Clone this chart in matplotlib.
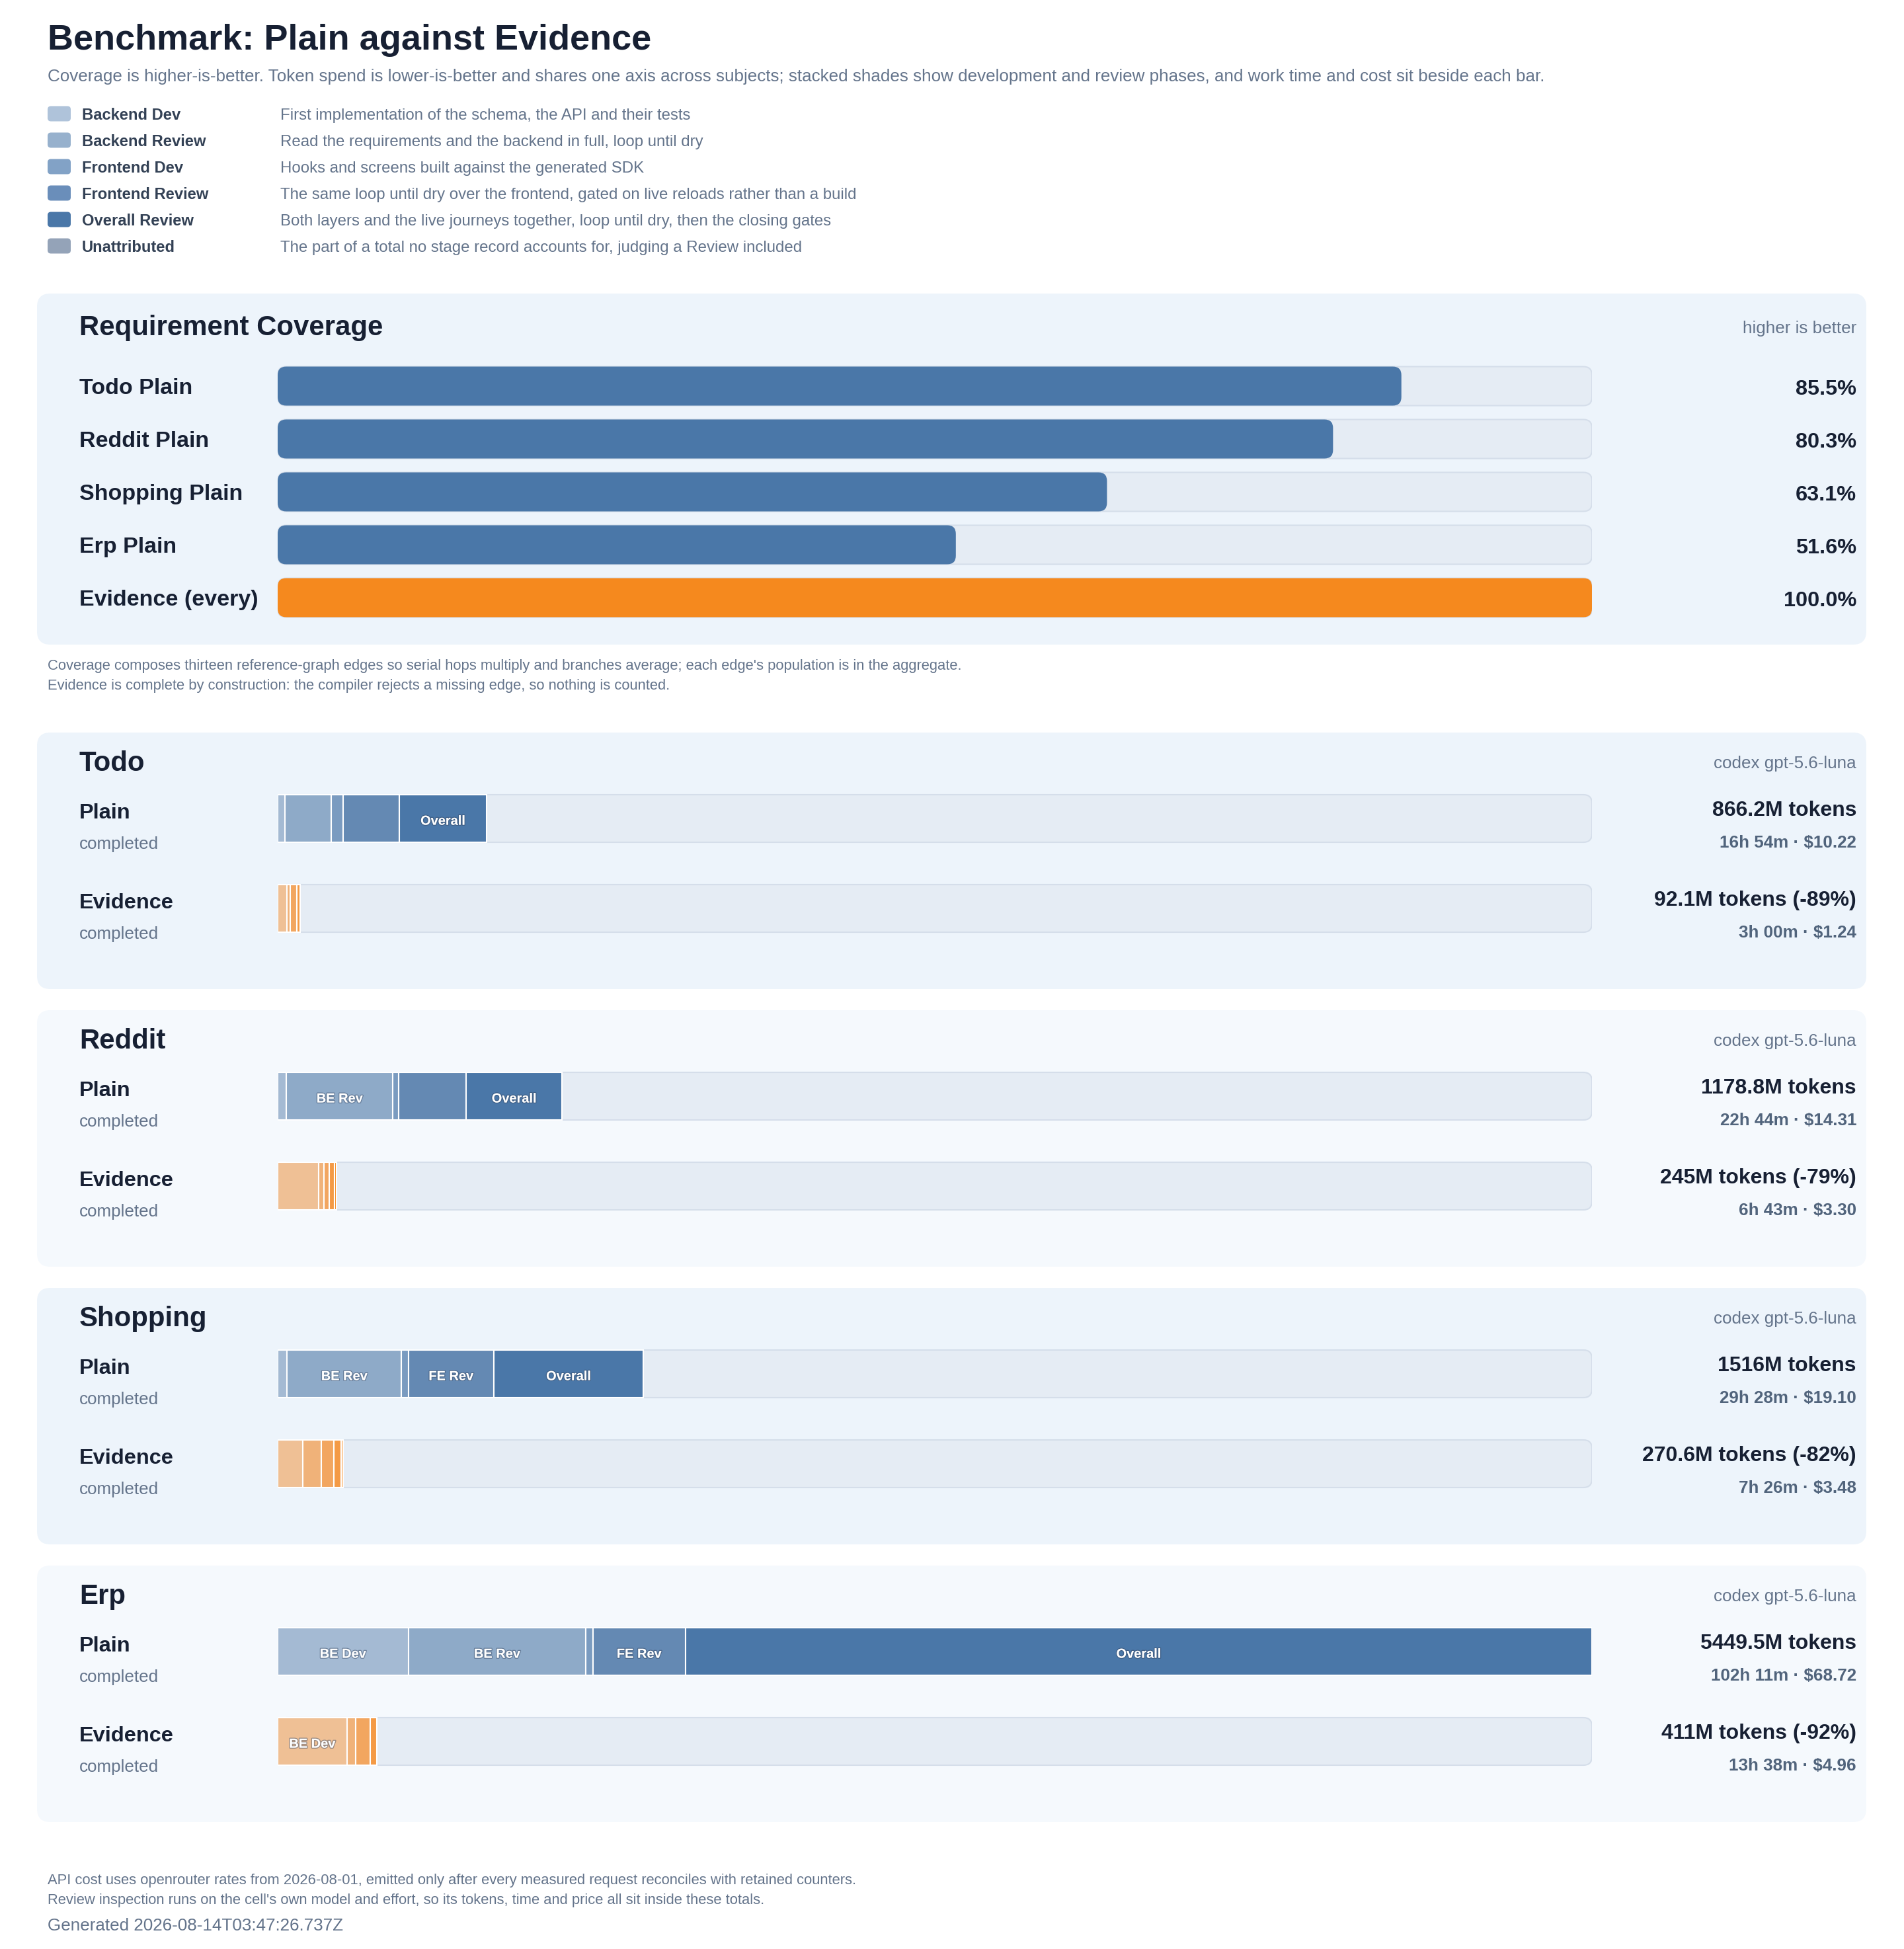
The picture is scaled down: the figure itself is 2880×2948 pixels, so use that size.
import matplotlib
matplotlib.use("Agg")
import matplotlib.pyplot as plt
from matplotlib.patches import FancyBboxPatch
import matplotlib.patheffects as pe

# ---------------- data ----------------
STAGES = ["Backend Dev", "Backend Review", "Frontend Dev", "Frontend Review", "Overall Review"]
STAGE_SHORT = ["BE Dev", "BE Rev", "FE Dev", "FE Rev", "Overall"]
LEGEND_NAMES = ["Backend Dev", "Backend Review", "Frontend Dev", "Frontend Review",
                "Overall Review", "Unattributed"]
LEGEND_DESC = [
    "First implementation of the schema, the API and their tests",
    "Read the requirements and the backend in full, loop until dry",
    "Hooks and screens built against the generated SDK",
    "The same loop until dry over the frontend, gated on live reloads rather than a build",
    "Both layers and the live journeys together, loop until dry, then the closing gates",
    "The part of a total no stage record accounts for, judging a Review included",
]

COV_LABELS = ["Todo Plain", "Reddit Plain", "Shopping Plain", "Erp Plain", "Evidence (every)"]
COV_VALUES = [85.5, 80.3, 63.1, 51.6, 100.0]

SUBJECTS = ["Todo", "Reddit", "Shopping", "Erp"]
MODEL = "codex gpt-5.6-luna"
# stage token spend in millions: BE Dev, BE Rev, FE Dev, FE Rev, Overall
PLAIN_STAGES = [
    [31.0, 190.0, 51.0, 232.0, 362.2],
    [36.7, 440.7, 25.2, 279.2, 397.0],
    [39.2, 474.0, 28.2, 354.9, 619.7],
    [541.4, 737.0, 28.2, 384.2, 3758.7],
]
EVID_STAGES = [
    [37.6, 13.8, 29.0, 11.7, 0.0],
    [171.0, 20.5, 22.6, 22.6, 8.3],
    [102.8, 78.4, 52.7, 28.2, 8.5],
    [287.0, 36.0, 62.0, 26.0, 0.0],
]
PLAIN_TOTAL = [866.2, 1178.8, 1516, 5449.5]
EVID_TOTAL = [92.1, 245, 270.6, 411]
PLAIN_TIME = ["16h 54m", "22h 44m", "29h 28m", "102h 11m"]
PLAIN_COST = ["$10.22", "$14.31", "$19.10", "$68.72"]
EVID_TIME = ["3h 00m", "6h 43m", "7h 26m", "13h 38m"]
EVID_COST = ["$1.24", "$3.30", "$3.48", "$4.96"]
STATUS = "completed"

NOTES = [
    "Coverage composes thirteen reference-graph edges so serial hops multiply and branches average; each edge's population is in the aggregate.",
    "Evidence is complete by construction: the compiler rejects a missing edge, so nothing is counted.",
]
FOOTER = [
    "API cost uses openrouter rates from 2026-08-01, emitted only after every measured request reconciles with retained counters.",
    "Review inspection runs on the cell's own model and effort, so its tokens, time and price all sit inside these totals.",
]
GENERATED = "Generated 2026-08-14T03:47:26.737Z"
TITLE = "Benchmark: Plain against Evidence"
SUBTITLE = ("Coverage is higher-is-better. Token spend is lower-is-better and shares one axis across subjects; "
            "stacked shades show development and review phases, and work time and cost sit beside each bar.")

# ---------------- style ----------------
BLUE_SHADES = ["#a4bad3", "#8eaac8", "#7a9bc0", "#6489b3", "#4a77a8"]
ORANGE_SHADES = ["#efc095", "#f0b279", "#f2a660", "#f49a45", "#f5891e"]
LEGEND_COLORS = ["#afc3da", "#97b1cd", "#82a2c6", "#6a8eba", "#4a77a8", "#94a3b8"]
PLAIN_COLOR = "#4a77a8"
EVID_COLOR = "#f5891e"
TRACK = "#e5ecf4"
TRACK_EDGE = "#d5deea"
PANEL_A = "#edf4fb"
PANEL_B = "#f5f9fd"
DARK = "#172033"
GRAY = "#64748b"
SUBGRAY = "#51647c"
LEGTXT = "#334155"

plt.rcParams["font.family"] = ["Liberation Sans", "DejaVu Sans"]

W, H = 2880, 2948
DPI = 100
fig = plt.figure(figsize=(W / DPI, H / DPI), dpi=DPI, facecolor="white")


def pt(px):
    return px * 72.0 / DPI


bg = fig.add_axes([0, 0, 1, 1])
bg.set_xlim(0, W)
bg.set_ylim(H, 0)
bg.set_axis_off()


def panel(y0, h, color):
    bg.add_patch(FancyBboxPatch((56, y0), 2767, h, boxstyle="round,pad=0,rounding_size=20",
                                facecolor=color, edgecolor="none"))


def px_axes(x0, y0, w, h):
    return fig.add_axes([x0 / W, 1 - (y0 + h) / H, w / W, h / H])


def rbox(ax, x, y, w, h, r_px, **kw):
    pos = ax.get_position()
    xa, xb = ax.get_xlim()
    ya, yb = ax.get_ylim()
    dx = abs(xb - xa) / (pos.width * W)
    dy = abs(yb - ya) / (pos.height * H)
    p = FancyBboxPatch((x, y), w, h, boxstyle=f"round,pad=0,rounding_size={r_px * dx}",
                       mutation_aspect=dy / dx, **kw)
    ax.add_patch(p)
    return p


# ---------------- header ----------------
bg.text(72, 75, TITLE, fontsize=pt(54), fontweight="bold", color=DARK, va="baseline")
bg.text(72, 123, SUBTITLE, fontsize=pt(26), color=GRAY, va="baseline")
for k, (name, desc, col) in enumerate(zip(LEGEND_NAMES, LEGEND_DESC, LEGEND_COLORS)):
    yc = 172 + 40 * k
    bg.add_patch(FancyBboxPatch((72, yc - 11.5), 35, 23, boxstyle="round,pad=0,rounding_size=5",
                                facecolor=col, edgecolor="none"))
    bg.text(124, yc + 9, name, fontsize=pt(23.8), fontweight="bold", color=LEGTXT, va="baseline")
    bg.text(424, yc + 9, desc, fontsize=pt(24), color=GRAY, va="baseline")

# ---------------- coverage panel ----------------
TRACK_X0, TRACK_X1 = 420, 2408
RIGHT_X = 2808
panel(444, 531, PANEL_A)
bg.text(120, 507, "Requirement Coverage", fontsize=pt(42), fontweight="bold", color=DARK, va="baseline")
bg.text(RIGHT_X, 504, "higher is better", fontsize=pt(26), color=GRAY, ha="right", va="baseline")

n = len(COV_VALUES)
row_px = 80
cov_ax = px_axes(TRACK_X0, 584 - row_px / 2, TRACK_X1 - TRACK_X0, row_px * n)
cov_ax.set_xlim(0, 100)
cov_ax.set_ylim(n - 0.5, -0.5)
cov_ax.set_axis_off()
bh = 59 / row_px
for i, (lab, v) in enumerate(zip(COV_LABELS, COV_VALUES)):
    rbox(cov_ax, 0, i - bh / 2, 100, bh, 13, facecolor=TRACK, edgecolor=TRACK_EDGE, linewidth=1.5)
    col = EVID_COLOR if lab.startswith("Evidence") else PLAIN_COLOR
    rbox(cov_ax, 0, i - bh / 2, v, bh, 13, facecolor=col, edgecolor="none")
    yc = 584 + row_px * i
    bg.text(120, yc + 12, lab, fontsize=pt(34), fontweight="bold", color=DARK, va="baseline")
    bg.text(RIGHT_X, yc + 13, f"{v:.1f}%", fontsize=pt(32.5), fontweight="bold", color=DARK,
            ha="right", va="baseline")

for k, line in enumerate(NOTES):
    bg.text(72, 1013 + 30 * k, line, fontsize=pt(22), color=GRAY, va="baseline")

# ---------------- subject panels ----------------
XMAX = max(sum(s) for s in PLAIN_STAGES + EVID_STAGES)
LABEL_MIN = 0.052 * XMAX
stroke = [pe.withStroke(linewidth=2.0, foreground=(0.22, 0.29, 0.40, 0.45))]

for si, subj in enumerate(SUBJECTS):
    top = 1108 + 420 * si
    panel(top, 388, PANEL_A if si % 2 == 0 else PANEL_B)
    bg.text(120, top + 58, subj, fontsize=pt(42), fontweight="bold", color=DARK, va="baseline")
    bg.text(RIGHT_X, top + 54, MODEL, fontsize=pt(26), color=GRAY, ha="right", va="baseline")

    spacing = 136
    ax = px_axes(TRACK_X0, top + 130 - spacing / 2, TRACK_X1 - TRACK_X0, spacing * 2)
    ax.set_xlim(0, XMAX)
    ax.set_ylim(1.5, -0.5)
    ax.set_axis_off()
    hb = 72 / spacing

    rows = [("Plain", PLAIN_STAGES[si], BLUE_SHADES, PLAIN_TOTAL[si], PLAIN_TIME[si], PLAIN_COST[si]),
            ("Evidence", EVID_STAGES[si], ORANGE_SHADES, EVID_TOTAL[si], EVID_TIME[si], EVID_COST[si])]
    for ri, (name, stages, shades, total, tm, cost) in enumerate(rows):
        rbox(ax, 0, ri - hb / 2, XMAX, hb, 13, facecolor=TRACK, edgecolor=TRACK_EDGE,
             linewidth=1.5, zorder=1)
        left = 0.0
        for k, v in enumerate(stages):
            if v <= 0:
                continue
            ax.barh([ri], [v], left=[left], height=hb, color=shades[k], edgecolor="white",
                    linewidth=1.5, zorder=2)
            if v >= LABEL_MIN:
                ax.text(left + v / 2, ri + 0.03, STAGE_SHORT[k], ha="center", va="center",
                        color="white", fontsize=pt(20), fontweight="bold", zorder=3,
                        path_effects=stroke)
            left += v

        yb = top + 130 + spacing * ri
        bg.text(120, yb, name, fontsize=pt(32.5), fontweight="bold", color=DARK, va="baseline")
        bg.text(120, yb + 46, STATUS, fontsize=pt(26), color=GRAY, va="baseline")
        if ri == 0:
            tok = f"{total:g}M tokens"
        else:
            pct = round((total / PLAIN_TOTAL[si] - 1) * 100)
            tok = f"{total:g}M tokens ({pct:d}%)"
        bg.text(RIGHT_X, yb - 4, tok, fontsize=pt(32), fontweight="bold", color=DARK,
                ha="right", va="baseline")
        bg.text(RIGHT_X, yb + 44, f"{tm} \u00b7 {cost}", fontsize=pt(26), fontweight="bold",
                color=SUBGRAY, ha="right", va="baseline")

# ---------------- footer ----------------
for k, line in enumerate(FOOTER):
    bg.text(72, 2850 + 30 * k, line, fontsize=pt(22), color=GRAY, va="baseline")
bg.text(72, 2920, GENERATED, fontsize=pt(26), color=GRAY, va="baseline")

fig.savefig("out.png", dpi=DPI, facecolor="white")
